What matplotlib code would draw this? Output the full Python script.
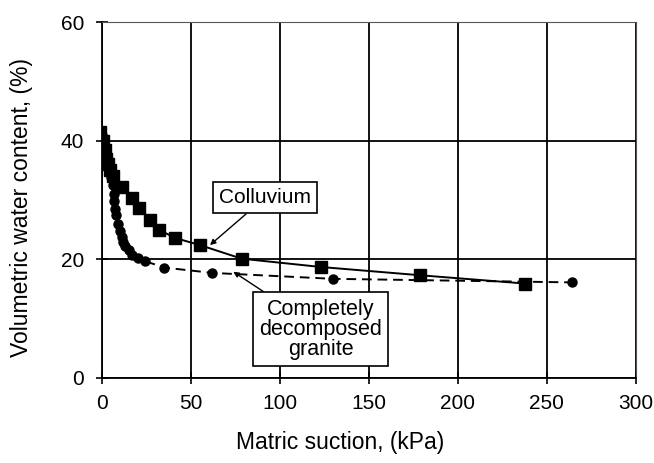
import matplotlib
matplotlib.use("Agg")
import matplotlib.pyplot as plt

plt.rcParams['font.family'] = ['Liberation Sans', 'DejaVu Sans']

# colluvium (squares, solid line)
colluvium_x = [-1, 0.5, 1.5, 2.5, 3.5, 4.5, 6, 11, 17, 21, 27, 32, 41, 55, 78.5, 123, 179, 238]
colluvium_y = [41.5, 40, 38.5, 37, 36, 35, 34, 32.2, 30.4, 28.7, 26.7, 25, 23.6, 22.4, 20.1, 18.7, 17.3, 15.9]

# completely decomposed granite (circles, dashed line)
cdg_x = [0, 1, 2, 3, 4, 5, 6, 6.5, 7, 7.5, 8, 9, 10, 11, 12, 13, 15, 17, 20, 24, 35, 62, 130, 264]
cdg_y = [41, 39.5, 38, 36.5, 35, 33.8, 32.5, 31, 29.8, 28.5, 27.5, 26, 24.8, 23.8, 23, 22.3,
         21.5, 20.8, 20.2, 19.7, 18.6, 17.7, 16.7, 16.1]

x_ticks = [0, 50, 100, 150, 200, 250, 300]
y_ticks = [0, 20, 40, 60]

fig = plt.figure(figsize=(6.54, 4.63), dpi=100)
ax = fig.add_axes([0.156, 0.184, 0.816, 0.768])

ax.plot(cdg_x, cdg_y, color='black', linestyle=(0, (5, 3)), linewidth=1.4,
        marker='o', markersize=6.5, zorder=3)
ax.plot(colluvium_x, colluvium_y, color='black', linestyle='-', linewidth=1.4,
        marker='s', markersize=9, zorder=4)

ax.set_xlim(0, 300)
ax.set_ylim(0, 60)
ax.set_xticks(x_ticks)
ax.set_yticks(y_ticks)
ax.grid(True, color='black', linewidth=1.3)
ax.tick_params(direction='inout', length=8, width=1.2, labelsize=15)
ax.tick_params(axis='x', pad=8)
ax.tick_params(axis='y', pad=9)
for side in ['top', 'right']:
    ax.spines[side].set_linewidth(0.8)
    ax.spines[side].set_color('#555555')
for side in ['left', 'bottom']:
    ax.spines[side].set_linewidth(1.3)

ax.set_xlabel('Matric suction, (kPa)', fontsize=16.5)
ax.set_ylabel('Volumetric water content, (%)', fontsize=16.5)
ax.xaxis.set_label_coords(0.446, -0.15)
ax.yaxis.set_label_coords(-0.13, 0.48)

box = dict(boxstyle='square,pad=0.3', facecolor='white', edgecolor='black', linewidth=1.2)
arrow = dict(arrowstyle='-|>', color='black', linewidth=1.0, mutation_scale=8,
             shrinkA=0, shrinkB=0)

ax.annotate('Colluvium', xy=(60.7, 22.4), xytext=(91.6, 30.4), fontsize=15,
            ha='center', va='center', bbox=box, arrowprops=arrow, zorder=6)
ax.annotate('Completely\ndecomposed\ngranite', xy=(73.8, 17.9), xytext=(122.8, 8.2),
            fontsize=15.5, ha='center', va='center', bbox=box, arrowprops=arrow,
            linespacing=0.95, zorder=6)

fig.savefig('out.png', dpi=100)
